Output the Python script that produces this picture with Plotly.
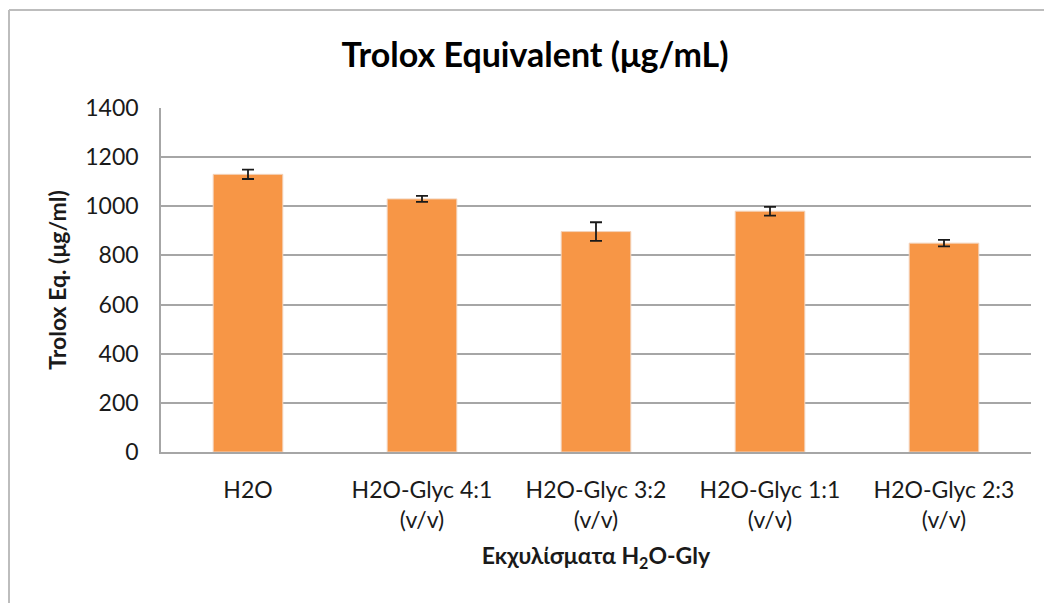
import plotly.graph_objects as go

categories = [
    "H2O",
    "H2O-Glyc 4:1<br>(v/v)",
    "H2O-Glyc 3:2<br>(v/v)",
    "H2O-Glyc 1:1<br>(v/v)",
    "H2O-Glyc 2:3<br>(v/v)",
]
values = [1130, 1030, 897, 980, 850]
errors = [19, 12, 38, 18, 13]
y_ticks = [0, 200, 400, 600, 800, 1000, 1200, 1400]

FONT = "Lato, 'Open Sans', Arial, sans-serif"
GRID = "#a6a6a6"

fig = go.Figure()
fig.add_trace(
    go.Bar(
        x=categories, y=values,
        marker={"color": "#f79646", "line": {"color": "#f3d3bb", "width": 1}},
        error_y={"type": "data", "array": errors, "color": "#1a1a1a", "thickness": 1.8, "width": 6},
        showlegend=False,
    )
)

# the page body adds an 8px offset, margins are set so the plot lands where the original sits
fig.update_layout(
    width=1052, height=603,
    paper_bgcolor="white", plot_bgcolor="white",
    margin={"l": 153, "r": 29, "t": 100, "b": 159},
    bargap=0.6,
    font={"family": FONT, "color": "#1a1a1a", "size": 23},
    title={
        "text": "<b>Trolox Equivalent (μg/mL)</b>",
        "x": 0.501, "xanchor": "center", "y": 0.922, "yanchor": "middle",
        "font": {"size": 34, "family": FONT, "color": "#000000"},
    },
    xaxis={
        "showline": True, "linecolor": GRID, "linewidth": 1.5,
        "ticks": "", "tickfont": {"size": 23}, "ticklabelstandoff": 17,
        "title": {"text": "<b>Εκχυλίσματα H<sub>2</sub>O-Gly</b>", "font": {"size": 23}, "standoff": 16},
    },
    yaxis={
        "range": [0, 1400], "tickvals": y_ticks,
        "showgrid": True, "gridcolor": GRID, "gridwidth": 1.5,
        "showline": True, "linecolor": GRID, "linewidth": 1.5,
        "zeroline": False, "ticks": "", "ticklen": 0,
        "tickfont": {"size": 23}, "ticklabelstandoff": 16,
        "title": {"text": "<b>Trolox Eq. (μg/ml)</b>", "font": {"size": 23}, "standoff": 12},
    },
    shapes=[
        {"type": "line", "xref": "paper", "yref": "paper", "x0": -0.1747, "x1": 1.05,
         "y0": 1.285, "y1": 1.285, "line": {"color": "#bdbdbd", "width": 2}},
        {"type": "line", "xref": "paper", "yref": "paper", "x0": -0.1747, "x1": -0.1747,
         "y0": 1.285, "y1": -0.5, "line": {"color": "#bdbdbd", "width": 2}},
    ],
)

fig.write_html("out.html")
